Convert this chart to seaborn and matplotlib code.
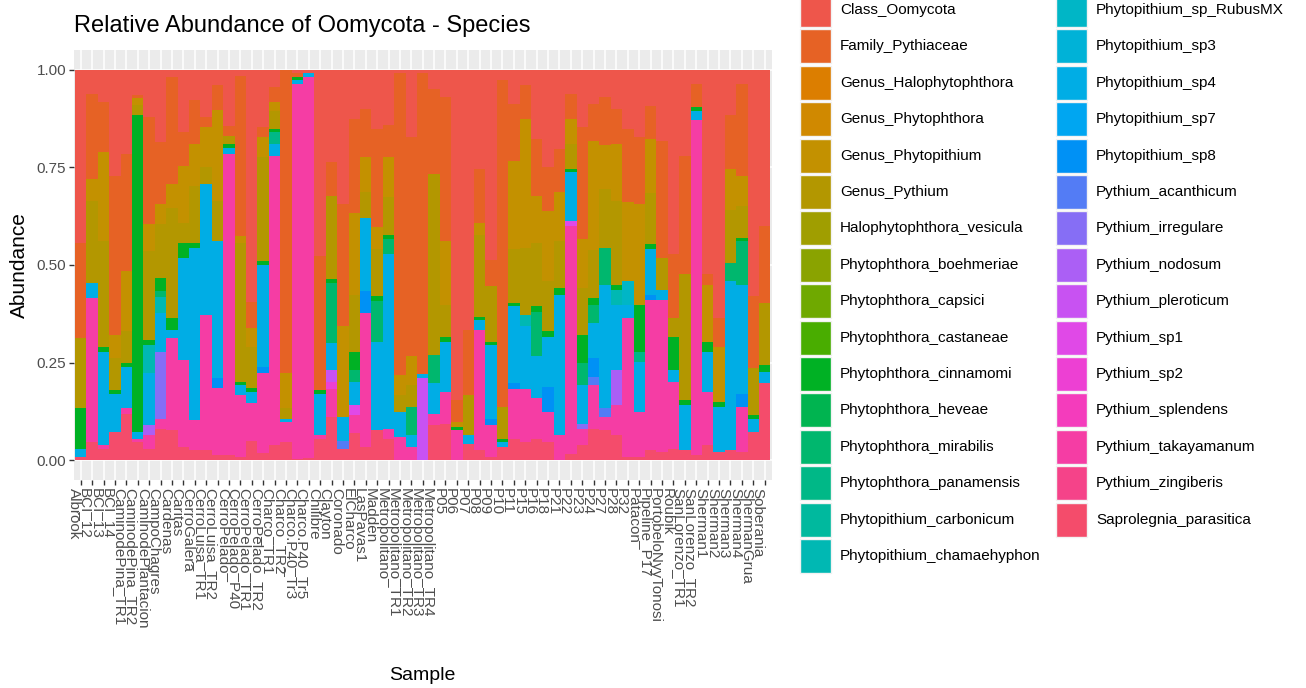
import math
import colorsys
import matplotlib
matplotlib.use("Agg")
import matplotlib.pyplot as plt
from matplotlib.patches import Rectangle
import numpy as np
import pandas as pd
import seaborn as sns

# ---------------- data ----------------
samples = ["Albrook", "BCI_12", "BCI_13", "BCI_14", "CaminodePina_TR1", "CaminodePina_TR2",
           "CaminodePlantacion", "CampoChagres", "Cardenas", "Caritas",
           "CerroGalera", "CerroLuisa_TR1", "CerroLuisa_TR2", "CerroPelado", "CerroPelado_P40",
           "CerroPelado_TR1", "CerroPelado_TR2", "Charco_TR1", "Charco_TR2", "Charco.P40_Tr3",
           "Charco.P40_Tr5", "Chilibre", "Clayton", "Coronado", "ElCharco", "LasPavas1", "Madden",
           "Metropolitano", "Metropolitano_TR1", "Metropolitano_TR2",
           "Metropolitano_TR3", "Metropolitano_TR4", "P05", "P06", "P07", "P08", "P09", "P10", "P11", "P15",
           "P16", "P18", "P21", "P22", "P23", "P24", "P27", "P28", "P32", "Patacon",
           "Pipeline_P17", "PortobeloNyyTonosi", "Roubik", "SanLorenzo_TR1", "SanLorenzo_TR2",
           "Sherman1", "Sherman2", "Sherman3", "Sherman4", "ShermanGrua", "Soberania"]

species = ["Class_Oomycota", "Family_Pythiaceae", "Genus_Halophytophthora", "Genus_Phytophthora",
           "Genus_Phytopithium", "Genus_Pythium", "Halophytophthora_vesicula",
           "Phytophthora_boehmeriae", "Phytophthora_capsici", "Phytophthora_castaneae",
           "Phytophthora_cinnamomi", "Phytophthora_heveae", "Phytophthora_mirabilis",
           "Phytophthora_panamensis", "Phytopithium_carbonicum", "Phytopithium_chamaehyphon",
           "Phytopithium_sp_RubusMX", "Phytopithium_sp3", "Phytopithium_sp4", "Phytopithium_sp7",
           "Phytopithium_sp8", "Pythium_acanthicum", "Pythium_irregulare", "Pythium_nodosum",
           "Pythium_pleroticum", "Pythium_sp1", "Pythium_sp2", "Pythium_splendens",
           "Pythium_takayamanum", "Pythium_zingiberis", "Saprolegnia_parasitica"]

class_oomycota = [
    0.443, 0.062, 0.083, 0.272, 0.216, 0.066, 0.122, 0.185, 0.019, 0.160,
    0.079, 0.122, 0.039, 0.144, 0.017, 0.595, 0.147, 0.045, 0.002, 0.010,
    0.010, 0.477, 0.237, 0.344, 0.126, 0.100, 0.152, 0.143, 0.010, 0.173,
    0.008, 0.049, 0.070, 0.846, 0.666, 0.255, 0.486, 0.027, 0.087, 0.040,
    0.177, 0.250, 0.203, 0.062, 0.147, 0.088, 0.070, 0.100, 0.152, 0.173,
    0.092, 0.182, 0.473, 0.220, 0.036, 0.524, 0.636, 0.117, 0.036, 0.580, 0.400]

family_pythiaceae = [
    0.244, 0.218, 0.129, 0.407, 0.300, 0.008, 0.274, 0.158, 0.274, 0.086,
    0.111, 0.025, 0.065, 0.026, 0.410, 0.065, 0.026, 0.038, 0.775, 0.009,
    0.000, 0.343, 0.086, 0.313, 0.240, 0.124, 0.252, 0.081, 0.771, 0.561,
    0.770, 0.218, 0.369, 0.056, 0.167, 0.137, 0.068, 0.836, 0.146, 0.086,
    0.146, 0.112, 0.111, 0.064, 0.287, 0.095, 0.124, 0.090, 0.188, 0.171,
    0.085, 0.300, 0.163, 0.304, 0.060, 0.026, 0.073, 0.138, 0.236, 0.184, 0.197]

genus_phytopithium = [
    0.000, 0.056, 0.227, 0.060, 0.154, 0.017, 0.068, 0.052, 0.060, 0.146,
    0.107, 0.103, 0.231, 0.000, 0.017, 0.051, 0.051, 0.022, 0.090, 0.000,
    0.000, 0.000, 0.000, 0.232, 0.210, 0.090, 0.056, 0.103, 0.052, 0.073,
    0.000, 0.000, 0.163, 0.013, 0.000, 0.030, 0.000, 0.000, 0.227, 0.330,
    0.120, 0.180, 0.125, 0.064, 0.125, 0.278, 0.112, 0.146, 0.202, 0.258,
    0.140, 0.000, 0.000, 0.000, 0.000, 0.146, 0.141, 0.105, 0.078, 0.000, 0.000]

genus_pythium = [
    0.180, 0.210, 0.270, 0.082, 0.081, 0.026, 0.228, 0.137, 0.283, 0.051,
    0.146, 0.043, 0.103, 0.020, 0.356, 0.103, 0.266, 0.047, 0.026, 0.000,
    0.000, 0.000, 0.214, 0.000, 0.146, 0.065, 0.120, 0.095, 0.043, 0.056,
    0.000, 0.463, 0.081, 0.000, 0.103, 0.210, 0.142, 0.081, 0.137, 0.171,
    0.163, 0.128, 0.120, 0.065, 0.120, 0.124, 0.150, 0.214, 0.000, 0.000,
    0.130, 0.081, 0.047, 0.322, 0.000, 0.000, 0.000, 0.134, 0.080, 0.120, 0.159]

phytophthora_cinnamomi = [
    0.103, 0.000, 0.013, 0.008, 0.009, 0.810, 0.012, 0.034, 0.030, 0.039,
    0.013, 0.000, 0.000, 0.010, 0.008, 0.010, 0.009, 0.008, 0.000, 0.009,
    0.000, 0.009, 0.009, 0.000, 0.047, 0.000, 0.013, 0.012, 0.000, 0.000,
    0.000, 0.000, 0.013, 0.008, 0.000, 0.008, 0.008, 0.009, 0.009, 0.000,
    0.013, 0.013, 0.017, 0.008, 0.072, 0.017, 0.000, 0.013, 0.000, 0.120,
    0.013, 0.000, 0.086, 0.013, 0.009, 0.026, 0.013, 0.000, 0.009, 0.009, 0.017]

phytopithium_sp4 = [
    0.021, 0.038, 0.238, 0.098, 0.107, 0.017, 0.133, 0.100, 0.021, 0.261,
    0.441, 0.334, 0.351, 0.015, 0.025, 0.030, 0.261, 0.030, 0.008, 0.009,
    0.009, 0.107, 0.069, 0.060, 0.060, 0.188, 0.227, 0.446, 0.064, 0.030,
    0.012, 0.077, 0.128, 0.000, 0.021, 0.026, 0.189, 0.013, 0.197, 0.159,
    0.107, 0.128, 0.360, 0.124, 0.099, 0.090, 0.317, 0.167, 0.034, 0.129,
    0.116, 0.026, 0.030, 0.115, 0.025, 0.102, 0.116, 0.432, 0.279, 0.034, 0.030]

pythium_takayamanum = [
    0.000, 0.369, 0.010, 0.000, 0.013, 0.009, 0.034, 0.026, 0.236, 0.223,
    0.077, 0.347, 0.170, 0.770, 0.157, 0.096, 0.203, 0.741, 0.052, 0.958,
    0.975, 0.008, 0.073, 0.000, 0.047, 0.343, 0.000, 0.025, 0.060, 0.034,
    0.000, 0.030, 0.082, 0.077, 0.000, 0.308, 0.080, 0.000, 0.128, 0.137,
    0.103, 0.077, 0.064, 0.583, 0.042, 0.112, 0.034, 0.077, 0.354, 0.114,
    0.385, 0.390, 0.171, 0.000, 0.857, 0.137, 0.000, 0.000, 0.116, 0.000, 0.000]

saprolegnia_parasitica = [
    0.009, 0.047, 0.030, 0.073, 0.120, 0.047, 0.030, 0.081, 0.077, 0.034,
    0.026, 0.026, 0.015, 0.015, 0.010, 0.050, 0.020, 0.039, 0.047, 0.005,
    0.006, 0.056, 0.111, 0.030, 0.069, 0.034, 0.077, 0.056, 0.000, 0.000,
    0.000, 0.090, 0.094, 0.000, 0.043, 0.026, 0.010, 0.034, 0.056, 0.047,
    0.056, 0.047, 0.000, 0.017, 0.039, 0.081, 0.077, 0.064, 0.010, 0.010,
    0.026, 0.021, 0.030, 0.026, 0.013, 0.039, 0.021, 0.026, 0.021, 0.073, 0.197]

# sparse species (sample -> abundance)
phytophthora_mirabilis = {"CampoChagres": 0.017, "Clayton": 0.154, "ElCharco": 0.030, "Madden": 0.103,
                          "Metropolitano": 0.039, "Metropolitano_TR2": 0.073, "Metropolitano_TR4": 0.073,
                          "P16": 0.115, "P23": 0.056, "P24": 0.047, "P27": 0.094, "Sherman3": 0.048,
                          "Sherman4": 0.111}
phytophthora_panamensis = {"Charco_TR1": 0.030, "Patacon": 0.025}
phytopithium_chamaehyphon = {"CaminodePlantacion": 0.073, "CampoChagres": 0.039, "P15": 0.030, "P28": 0.039}
phytopithium_sp_rubusmx = {"P32": 0.060}
phytopithium_sp8 = {"CerroLuisa_TR2": 0.026, "CerroPelado_TR2": 0.017, "LasPavas1": 0.056, "P09": 0.017,
                    "P11": 0.013, "P18": 0.065, "P24": 0.048, "Pipeline_P17": 0.013, "Sherman4": 0.034}
pythium_acanthicum = {"Coronado": 0.021, "P24": 0.020, "P27": 0.022}
pythium_irregulare = {"CampoChagres": 0.171, "P23": 0.013}
pythium_nodosum = {"CaminodePlantacion": 0.026, "P28": 0.090}
pythium_pleroticum = {"Clayton": 0.030, "Metropolitano_TR3": 0.210}
pythium_sp1 = {"ElCharco": 0.025, "P22": 0.013}
pythium_sp2 = {"Clayton": 0.017}

# ---------------- table ----------------
dense = {
    "Class_Oomycota": class_oomycota,
    "Family_Pythiaceae": family_pythiaceae,
    "Genus_Phytopithium": genus_phytopithium,
    "Genus_Pythium": genus_pythium,
    "Phytophthora_cinnamomi": phytophthora_cinnamomi,
    "Phytopithium_sp4": phytopithium_sp4,
    "Pythium_takayamanum": pythium_takayamanum,
    "Saprolegnia_parasitica": saprolegnia_parasitica,
}
sparse = {
    "Phytophthora_mirabilis": phytophthora_mirabilis,
    "Phytophthora_panamensis": phytophthora_panamensis,
    "Phytopithium_chamaehyphon": phytopithium_chamaehyphon,
    "Phytopithium_sp_RubusMX": phytopithium_sp_rubusmx,
    "Phytopithium_sp8": phytopithium_sp8,
    "Pythium_acanthicum": pythium_acanthicum,
    "Pythium_irregulare": pythium_irregulare,
    "Pythium_nodosum": pythium_nodosum,
    "Pythium_pleroticum": pythium_pleroticum,
    "Pythium_sp1": pythium_sp1,
    "Pythium_sp2": pythium_sp2,
}
df = pd.DataFrame({"Sample": samples})
for sp in species:
    if sp in dense:
        df[sp] = dense[sp]
    elif sp in sparse:
        df[sp] = [sparse[sp].get(s, 0.0) for s in samples]
    else:
        df[sp] = 0.0


# ggplot2 default hue palette (HCL, c=100, l=65), rendered a bit more saturated as in the reference
def hcl_rgb(h, c=100.0, l=65.0):
    hr = math.radians(h)
    U, V, L = c * math.cos(hr), c * math.sin(hr), l
    Xn, Yn, Zn = 95.047, 100.0, 108.883
    den = Xn + 15 * Yn + 3 * Zn
    un, vn = 4 * Xn / den, 9 * Yn / den
    Y = Yn * (((L + 16) / 116) ** 3 if L > 8 else L / 903.3)
    u = U / (13 * L) + un
    v = V / (13 * L) + vn
    X = 9.0 * Y * u / (4 * v)
    Z = -X / 3 - 5 * Y + 3 * Y / v
    X, Y, Z = X / 100, Y / 100, Z / 100
    rgb = [3.240479 * X - 1.537150 * Y - 0.498535 * Z,
           -0.969256 * X + 1.875992 * Y + 0.041556 * Z,
           0.055648 * X - 0.204043 * Y + 1.057311 * Z]
    out = []
    for t in rgb:
        t = 12.92 * t if t <= 0.0031308 else 1.055 * max(t, 0) ** (1 / 2.4) - 0.055
        out.append(min(1, max(0, t)))
    return out


def boosted(h):
    r, g, b = hcl_rgb(h)
    hh, s, v = colorsys.rgb_to_hsv(r, g, b)
    s = min(1.0, s * 1.22)
    v = v * 0.96
    return colorsys.hsv_to_rgb(hh, s, v)


n = len(species)
hues = np.linspace(15, 375, n + 1)[:-1]
colors = [boosted(h % 360) for h in hues]

# ---------------- figure ----------------
sns.set_theme(style="darkgrid")
plt.rcParams["font.family"] = ["Liberation Sans", "DejaVu Sans"]

W, H = 1306, 688
fig = plt.figure(figsize=(W / 100, H / 100), dpi=100)
ax_l, ax_r, ax_t, ax_b = 73.9, 771.5, 50, 480
ax = fig.add_axes([ax_l / W, 1 - ax_b / H, (ax_r - ax_l) / W, (ax_b - ax_t) / H])
ax.set_facecolor("#EBEBEB")

# stacked bars: first level on top (ggplot order)
for k, sp in enumerate(species):
    cum = df[species[k:]].sum(axis=1)
    if df[sp].sum() <= 0:
        continue
    sns.barplot(x=df["Sample"], y=cum, order=samples, color=colors[k], saturation=1,
                width=1.0, errorbar=None, linewidth=0, ax=ax)

ax.set_xlim(-0.6, len(samples) - 0.4)
ax.set_ylim(-0.05, 1.05)
ax.set_yticks([0, 0.25, 0.5, 0.75, 1.0])
ax.set_yticklabels(["0.00", "0.25", "0.50", "0.75", "1.00"])
ax.set_xticks(range(len(samples)))
ax.set_xticklabels(samples, rotation=270, ha="right", va="top")
ax.set_axisbelow(True)
ax.grid(True, axis="x", color="white", linewidth=1.1)
ax.grid(True, axis="y", color="white", linewidth=1.1)
for s in ax.spines.values():
    s.set_visible(False)
ax.tick_params(axis="both", which="both", length=3.5, width=1, color="#333333",
               labelcolor="#4D4D4D", pad=2)
ax.tick_params(axis="x", labelsize=11)
ax.tick_params(axis="y", labelsize=11)
ax.tick_params(axis="both", bottom=True, left=True)

ax.set_xlabel("Sample", fontsize=14, color="black")
ax.set_ylabel("Abundance", fontsize=15, color="black")
ax.xaxis.set_label_coords(0.5, -(667 - ax_b) / (ax_b - ax_t))
ax.yaxis.set_label_coords(-(ax_l - 29) / (ax_r - ax_l), 0.5)
ax.set_title("Relative Abundance of Oomycota - Species", loc="left", fontsize=17,
             color="black", pad=13)

# ---------------- legend (two columns, ggplot-style keys) ----------------
row_h = 36.4
for i, sp in enumerate(species):
    col, row = (0, i) if i < 16 else (1, i - 16)
    kx = 800 if col == 0 else 1056
    yc = 10 + row_h * row
    fig.add_artist(Rectangle((kx / W, 1 - (yc + 17) / H), 31 / W, 34 / H,
                             transform=fig.transFigure, facecolor=colors[i],
                             edgecolor="#F2F2F2", linewidth=1))
    fig.text((kx + 40) / W, 1 - yc / H, sp, ha="left", va="center", fontsize=11, color="black")

fig.savefig("out.png", dpi=100, facecolor="white")
